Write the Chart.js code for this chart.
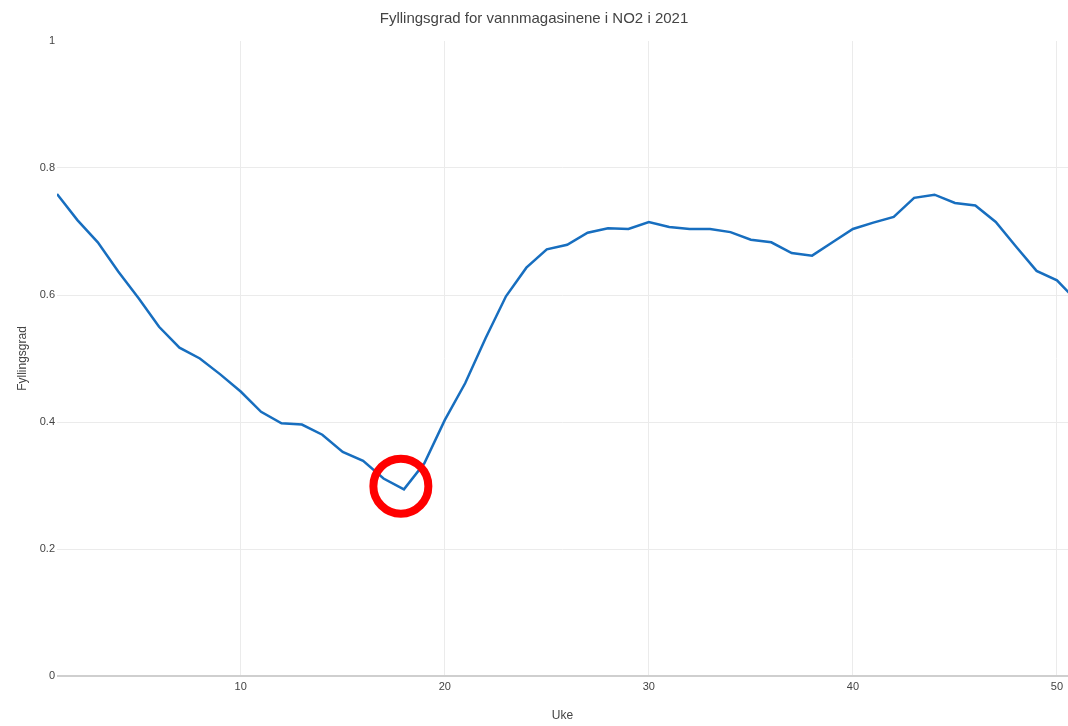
<!DOCTYPE html>
<html>
<head>
<meta charset="utf-8">
<script src="https://cdn.jsdelivr.net/npm/chart.js@4/dist/chart.umd.min.js"></script>
<style>
  html, body { margin: 0; padding: 0; background: #fff; }
  #wrap { width: 1068px; height: 726px; }
</style>
</head>
<body>
<div id="wrap"><canvas id="chart-fylling" width="1068" height="726"></canvas></div>
<script>
/* Fyllingsgrad NO2 2021 — uke for uke */

const uker = [1, 2, 3, 4, 5, 6, 7, 8, 9, 10, 11, 12, 13, 14, 15, 16, 17, 18, 19, 20,
              21, 22, 23, 24, 25, 26, 27, 28, 29, 30, 31, 32, 33, 34, 35, 36, 37, 38, 39, 40,
              41, 42, 43, 44, 45, 46, 47, 48, 49, 50, 51];
const fyllingsgrad = [
  0.759, 0.718, 0.683, 0.637, 0.595, 0.550, 0.517, 0.500, 0.475, 0.448,
  0.416, 0.398, 0.396, 0.380, 0.353, 0.339, 0.311, 0.294, 0.335, 0.403,
  0.461, 0.532, 0.598, 0.643, 0.672, 0.679, 0.698, 0.705, 0.704, 0.715,
  0.707, 0.704, 0.704, 0.699, 0.687, 0.683, 0.666, 0.662, 0.683, 0.704,
  0.714, 0.723, 0.753, 0.758, 0.745, 0.741, 0.715, 0.676, 0.638, 0.623,
  0.590,
];
const xTicks = [10, 20, 30, 40, 50];
const yTicks = [0, 0.2, 0.4, 0.6, 0.8, 1];

// markering rundt bunnpunktet (uke, verdi)
const markUke   = 17.85;
const markVerdi = 0.299;

const FONT = "'Liberation Sans', Arial, sans-serif";
Chart.defaults.font.family = FONT;
Chart.defaults.color       = '#444';

const ringPlugin = {
  id: 'ring',
  afterDatasetsDraw(chart) {
    const { ctx, scales: { x, y } } = chart;
    const px = x.getPixelForValue(markUke);
    const py = y.getPixelForValue(markVerdi);
    ctx.save();
    ctx.beginPath();
    ctx.arc(px, py, 27.5, 0, Math.PI * 2);
    ctx.lineWidth   = 8;
    ctx.strokeStyle = '#ff0000';
    ctx.stroke();
    ctx.restore();
  },
};

const ctx = document.getElementById('chart-fylling').getContext('2d');
new Chart(ctx, {
  type: 'line',
  data: {
    datasets: [{
      data: uker.map((u, i) => ({ x: u, y: fyllingsgrad[i] })),
      borderColor: '#176ebf',
      borderWidth: 2.5,
      pointRadius: 0,
      tension: 0,
      fill: false,
    }],
  },
  options: {
    responsive: false,
    animation: false,
    layout: { padding: 0 },
    plugins: {
      legend:  { display: false },
      tooltip: { enabled: false },
      title: {
        display: true,
        text: 'Fyllingsgrad for vannmagasinene i NO2 i 2021',
        color: '#444',
        font: { size: 15, weight: 'normal', family: FONT },
        padding: { top: 10, bottom: 13 },
      },
    },
    scales: {
      x: {
        type: 'linear',
        min: 1,
        max: 50.54,
        afterBuildTicks: s => { s.ticks = xTicks.map(v => ({ value: v })); },
        afterFit: s => { s.height = 50; },
        grid:   { color: '#ebebeb', drawTicks: false },
        border: { display: false },
        ticks:  { padding: 4, font: { size: 11 }, color: '#444' },
        title:  {
          display: true, text: 'Uke', color: '#444',
          font: { size: 12 }, padding: { top: 0, bottom: 3 },
        },
      },
      y: {
        min: 0,
        max: 1,
        afterBuildTicks: s => { s.ticks = yTicks.map(v => ({ value: v })); },
        afterFit: s => { s.width = 57; },
        grid: {
          drawTicks: false,
          color:     c => c.tick.value === 0 ? '#cfcfcf' : (c.tick.value === 1 ? 'rgba(0,0,0,0)' : '#ebebeb'),
          lineWidth: c => c.tick.value === 0 ? 2 : 1,
        },
        border: { display: false },
        ticks:  { padding: 2, font: { size: 11 }, color: '#444', callback: v => String(v) },
        title:  {
          display: true, text: 'Fyllingsgrad', color: '#444',
          font: { size: 12 }, padding: { top: 15, bottom: 0 },
        },
      },
    },
  },
  plugins: [ringPlugin],
});
</script>
</body>
</html>
